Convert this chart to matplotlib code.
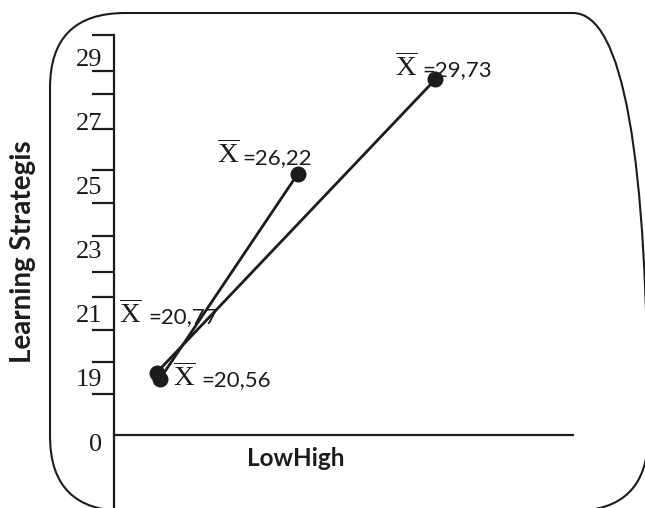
import matplotlib
matplotlib.use('Agg')
import matplotlib.pyplot as plt
from matplotlib.patches import FancyBboxPatch

# data (positions on the drawn scale) and the printed means
line_a_x = [0.93, 7.0]
line_a_y = [19.17, 28.33]
line_a_means = ['20,77', '29,73']

line_b_x = [1.0, 4.0]
line_b_y = [18.97, 25.37]
line_b_means = ['20,56', '26,22']

y_tick_marks = [29.72, 28.60, 27.875, 26.77, 25.50, 24.48, 23.44,
                22.32, 21.54, 20.50, 19.51, 18.49]
y_label_pos = [16.97, 19, 21, 23, 25, 27, 29]
y_label_text = ['0', '19', '21', '23', '25', '27', '29']

# label offsets in pixels (x right, y up) from each point: X-bar, then "=value"
offsets_a = [((-37.7, 49.7), (-8.7, 49.7)), ((-40, 3.3), (-13, 3.3))]
offsets_b = [((13, -7), (41, -7)), ((-80.7, 11.3), (-55.7, 10.3))]

INK = '#1c1c1c'
PX = 0.72  # points per pixel at dpi 100

fig = plt.figure(figsize=(6.45, 5.08), dpi=100)

# rounded frame
bg = fig.add_axes([0, 0, 1, 1])
bg.set_xlim(0, 645)
bg.set_ylim(0, 508)
bg.axis('off')
bg.add_patch(FancyBboxPatch((50, -3), 598, 498,
                            boxstyle='round,pad=0,rounding_size=75',
                            fill=False, edgecolor=INK, linewidth=1.5))

ax = fig.add_axes([114 / 645, 0, 459 / 645, 1])
ax.patch.set_alpha(0)
ax.set_xlim(0, 10)
ax.set_ylim(14.9375, 30.8125)
for s in ['top', 'right']:
    ax.spines[s].set_visible(False)
ax.spines['left'].set_bounds(14.9375, 29.72)
ax.spines['bottom'].set_position(('data', 17.22))
for s in ['left', 'bottom']:
    ax.spines[s].set_color(INK)
    ax.spines[s].set_linewidth(1.6)
ax.set_xticks([])

ax.set_yticks(y_tick_marks, labels=[''] * len(y_tick_marks))
ax.tick_params(axis='y', which='major', length=22 * PX, width=1.6,
               color=INK, direction='out')
ax.set_yticks(y_label_pos, labels=y_label_text, minor=True)
ax.tick_params(axis='y', which='minor', length=0, pad=12 * PX,
               labelsize=19, labelcolor=INK)
for lab in ax.get_yticklabels(minor=True):
    lab.set_family('Liberation Serif')

plt.rcParams['mathtext.fontset'] = 'custom'
plt.rcParams['mathtext.rm'] = 'Liberation Serif'

for xs, ys, means, offs in [(line_a_x, line_a_y, line_a_means, offsets_a),
                            (line_b_x, line_b_y, line_b_means, offsets_b)]:
    ax.plot(xs, ys, color=INK, linewidth=2.0, marker='o',
            markersize=10.5, zorder=3)
    for x, y, m, (xo, vo) in zip(xs, ys, means, offs):
        ax.annotate(r'$\overline{\mathrm{X}}$', (x, y),
                    xytext=(xo[0] * PX, xo[1] * PX),
                    textcoords='offset points', ha='left', va='baseline',
                    fontsize=20.5, color=INK, zorder=2)
        ax.annotate('=' + m, (x, y), xytext=(vo[0] * PX, vo[1] * PX),
                    textcoords='offset points', ha='left', va='baseline',
                    fontsize=16, family='Lato', color=INK, zorder=2)

fig.text(23 / 645, (508 - 252) / 508, 'Learning Strategis', rotation=90,
         ha='center', va='center', fontsize=20, fontweight='bold',
         family='Lato', color=INK)
fig.text(296 / 645, (508 - 466) / 508, 'LowHigh', ha='center',
         va='baseline', fontsize=17.5, fontweight='bold', family='Lato',
         color=INK)

fig.savefig('out.png', dpi=100)
